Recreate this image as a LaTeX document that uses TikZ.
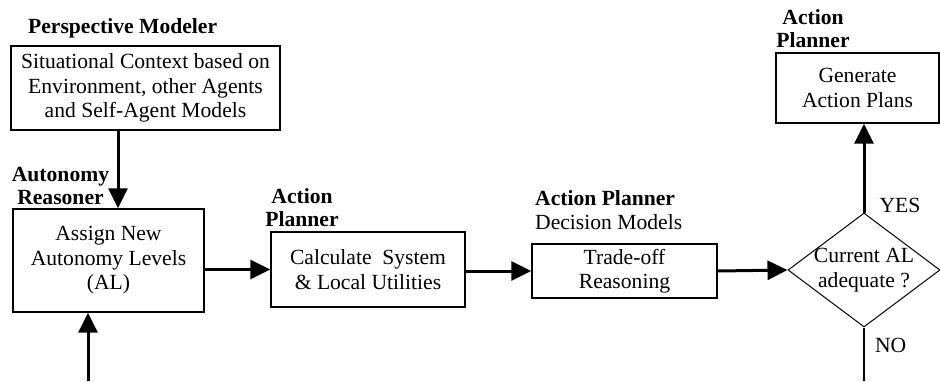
\documentclass[tikz,border=0pt]{standalone}
\usepackage{fontspec}
\setmainfont{Liberation Serif}
\usetikzlibrary{arrows.meta,shapes.geometric}

\begin{document}
\begin{tikzpicture}[x=1pt, y=-1pt,
  every node/.style = {font=\fontsize{21.6}{24.5}\selectfont, align=center},
  box/.style = {shape=rectangle, draw, line width=1.3pt, inner sep=0pt},
  decide/.style = {shape=diamond, draw, line width=1pt, inner sep=-4pt,
    shape aspect=1.33, minimum width=152pt, minimum height=114pt},
  role/.style = {font=\fontsize{21.6}{23.5}\selectfont\bfseries, inner sep=0pt},
  flow/.style = {line width=3pt, -{Triangle[length=20pt,width=19pt]}},
  answer/.style = {inner sep=0pt, anchor=base west}]
  \useasboundingbox (0,0) rectangle (940,381);

  \node[box, minimum width=269pt, minimum height=84pt] (situation) at (145.5,88)
    {Situational Context based on\\Environment, other Agents\\and Self-Agent Models};
  \node[box, minimum width=191pt, minimum height=103pt] (assign) at (108.5,260.5)
    {Assign New\\Autonomy Levels\\(AL)};
  \node[box, minimum width=194pt, minimum height=75pt] (utility) at (368,269.5)
    {Calculate\ \ System\\\& Local Utilities};
  \node[box, minimum width=185pt, minimum height=54pt] (tradeoff) at (624.5,271)
    {Trade-off\\Reasoning};
  \node[decide] (adequate) at (864,270) {Current AL\\adequate ?};
  \node[box, minimum width=163pt, minimum height=70pt] (plans) at (857.5,88)
    {Generate\\Action Plans};

  \node[role, anchor=base west] (modeler) at (28,33) {Perspective Modeler};
  \node[role, anchor=south] (reasoner) at (60.5,205) {Autonomy\\Reasoner};
  \node[role, anchor=south] (planner1) at (302,227) {Action\\Planner};
  \node[anchor=south west, align=left, inner sep=0pt] (planner2) at (535,230)
    {{\bfseries Action Planner}\\Decision Models};
  \node[role, anchor=south] (planner3) at (813,48) {Action\\Planner};

  \coordinate (feed) at (88,381);
  \coordinate (exit) at (864,381);
  \draw[flow] ([xshift=-27.5pt]situation.south) -- ([xshift=9.5pt]assign.north);
  \draw[flow] (feed) -- (feed |- assign.south);
  \draw[flow] (utility.west -| assign.east) -- (utility.west);
  \draw[flow] (tradeoff.west -| utility.east) -- (tradeoff.west);
  \draw[flow] (tradeoff.east) -- (adequate.west);
  \draw[flow] (adequate.north) -- (adequate.north |- plans.south)
    node[answer, pos=0, xshift=14pt] {YES};
  \draw[line width=2pt] (adequate.south) -- (exit)
    node[answer, pos=0.46, xshift=10pt] {NO};
\end{tikzpicture}
\end{document}
